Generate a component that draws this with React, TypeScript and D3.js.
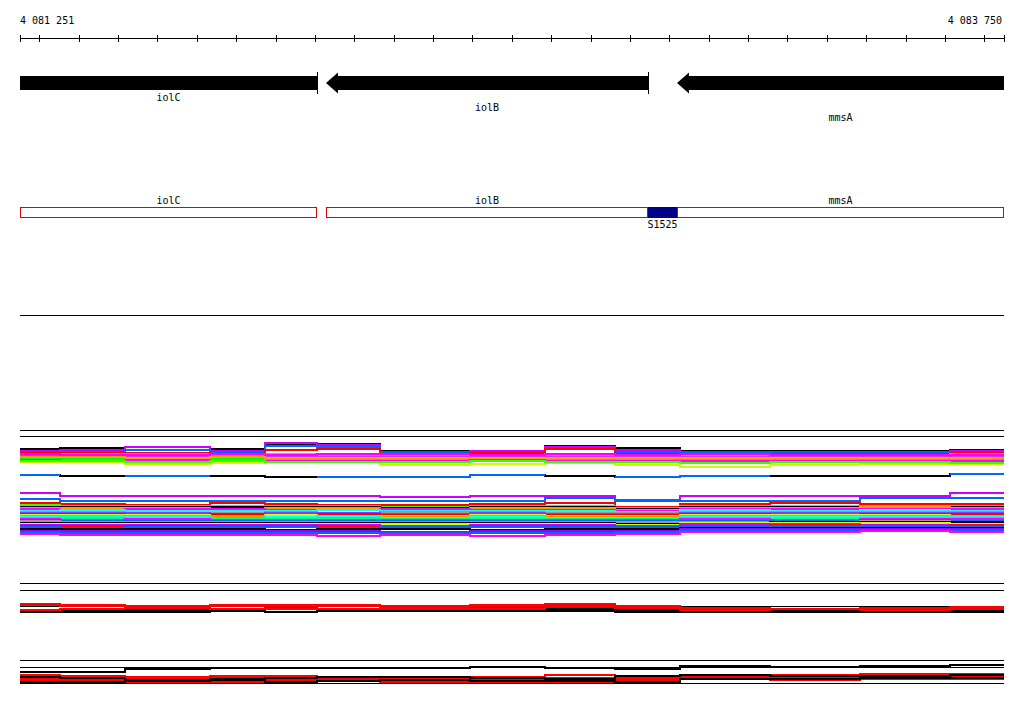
import React from "react";
import * as d3 from "d3";

// ---------- view / ruler ----------
const VIEW_START = 4081251;
const VIEW_END = 4083750;
const TICK_STEP = 100;

// ---------- genes ----------
const geneNames = ["iolC", "iolB", "mmsA"];
const geneStarts = [4080950, 4082028, 4082919];
const geneEnds = [4082005, 4082845, 4084400];
const geneLabelRows = [0, 1, 2];

// ---------- small RNA feature ----------
const featureNames = ["S1525"];
const featureStarts = [4082845];
const featureEnds = [4082919];

// ---------- step breakpoints shared by all profile series (bp) ----------
const breakpoints = [
  4081251, 4081353, 4081518, 4081734, 4081873, 4082005, 4082165, 4082394,
  4082584, 4082762, 4082927, 4083156, 4083384, 4083613, 4083750,
];

// ---------- panel 1 (signal units) ----------
const panel1RefLevels = [16, 15.4];
const panel1UpperColors = [
  "#000000", "#cc00ff", "#0066ff", "#ff0000", "#ff9900", "#999999", "#cc33ff",
  "#00ffff", "#00ff00", "#ff00ff", "#ccff00", "#ff9900", "#33ff00", "#ff00ff",
];
const panel1Upper: (number | null)[][] = [
  [14.1, 14.2, 14.35, 14.1, 14.6, 14.6, 13.9, 13.9, 14.4, 14.2, 13.9, 13.9, 13.9, 14.0],
  [13.95, 14.0, 14.3, 13.9, 14.7, 14.5, 13.85, 13.9, 14.3, 14.0, 13.8, 13.85, 13.85, 13.9],
  [13.8, 13.85, 14.0, 13.8, 14.4, 14.3, 13.8, 13.75, 14.2, 13.8, 13.75, 13.7, 13.7, 13.8],
  [13.7, 13.7, 13.75, 13.6, 14.0, 14.1, 13.6, 13.7, 14.1, 13.6, 13.6, 13.65, 13.6, 13.7],
  [13.55, 13.6, 13.6, 13.5, 13.6, 13.55, 13.45, 13.5, 13.55, 13.5, 13.5, 13.55, 13.5, 13.6],
  [13.5, 13.45, 13.5, 13.5, 13.45, 13.4, 13.5, 13.4, 13.45, 13.4, 13.35, 13.4, 13.45, 13.4],
  [13.4, 13.35, 13.4, 13.3, 13.35, 13.3, 13.3, 13.35, 13.3, 13.3, 13.3, 13.35, 13.3, 13.3],
  [13.2, 13.25, 13.2, 13.2, 13.25, 13.2, 13.1, 13.2, 13.15, 13.2, 13.1, 13.1, 13.2, 13.15],
  [13.1, 13.1, 13.05, 13.1, 13.0, 13.1, 13.0, 13.05, 13.1, 13.0, 13.05, 13.0, 13.0, 13.05],
  [13.0, 12.95, 13.0, 12.9, 12.95, 12.9, 12.9, 13.0, 12.9, 12.95, 12.9, 12.95, 12.9, 12.9],
  [12.8, 12.8, 12.6, 12.75, 12.8, 12.8, 12.55, 12.6, 12.7, 12.55, 12.3, 12.5, 12.6, 12.6],
  [13.3, 13.3, 13.25, 13.35, 13.2, 13.25, 13.2, 13.25, 13.2, 13.25, 13.2, 13.2, 13.25, 13.2],
  [12.9, 12.9, 12.85, 12.9, 12.85, 12.8, 12.85, 12.9, 12.8, 12.8, 12.75, 12.8, 12.8, 12.75],
  [13.6, 13.5, 13.55, 13.6, 13.5, 13.65, 13.6, 13.55, 13.6, 13.55, 13.6, 13.5, 13.55, 13.5],
];
const panel1MidColors = ["#000000", "#0066ff"];
const panel1Mid: (number | null)[][] = [
  [11.5, 11.45, 11.4, 11.4, 11.35, 11.35, 11.35, 11.5, 11.4, 11.3, 11.4, 11.45, 11.45, 11.6],
  [11.55, null, 11.4, null, null, 11.35, 11.35, 11.5, null, 11.3, 11.42, null, null, 11.6],
];
const panel1LowerColors = [
  "#cc00ff", "#0066ff", "#ff0000", "#33ff00", "#000000", "#ff9900", "#ff00ff",
  "#00ffff", "#999999", "#9933ff", "#ff0000", "#ccff00", "#ff9900", "#00ffff",
  "#00ff66", "#ff00ff", "#0066ff", "#999999", "#000000", "#ccff00", "#cc00ff",
  "#ff0000", "#0066ff", "#000000", "#9900ff", "#0066ff", "#ff00ff",
];
const panel1Lower: (number | null)[][] = [
  [9.75, 9.45, 9.4, 9.4, 9.4, 9.4, 9.35, 9.45, 9.45, 9.0, 9.4, 9.4, 9.45, 9.7],
  [9.1, 8.95, 8.9, 8.9, 8.9, 8.9, 8.95, 8.95, 9.2, 8.9, 8.95, 8.95, 9.2, 9.2],
  [8.75, 8.6, 8.55, 8.7, 8.6, 8.55, 8.55, 8.6, 8.7, 8.3, 8.65, 8.7, 8.6, 8.65],
  [8.5, 8.4, 8.45, 8.4, 8.4, 8.4, 8.35, 8.4, 8.45, 8.2, 8.4, 8.45, 8.4, 8.45],
  [8.3, 8.3, 8.3, 8.3, 8.3, 8.3, 8.25, 8.3, 8.3, 8.1, 8.35, 8.35, 8.35, 8.3],
  [8.2, 8.2, 8.25, 8.15, 8.2, 8.2, 8.15, 8.2, 8.2, 8.0, 8.25, 8.2, 8.3, 8.2],
  [8.1, 8.05, 8.1, 8.1, 8.05, 8.05, 8.1, 8.0, 8.05, 7.9, 8.1, 8.1, 8.15, 8.1],
  [7.95, 8.0, 7.95, 7.9, 7.95, 8.0, 7.9, 7.95, 7.9, 7.8, 8.0, 7.95, 8.0, 7.95],
  [7.85, 7.8, 7.75, 7.75, 7.8, 7.75, 7.8, 7.85, 7.75, 7.7, 7.85, 7.8, 7.85, 7.8],
  [7.75, 7.7, 7.7, 7.65, 7.7, 7.7, 7.65, 7.7, 7.65, 7.6, 7.75, 7.7, 7.7, 7.7],
  [7.65, 7.6, 7.55, 7.6, 7.55, 7.6, 7.55, 7.5, 7.55, 7.5, 7.6, 7.55, 7.6, 7.6],
  [7.55, 7.5, 7.5, 7.45, 7.5, 7.45, 7.45, 7.5, 7.45, 7.4, 7.5, 7.5, 7.5, 7.45],
  [7.45, 7.4, 7.4, 7.4, 7.35, 7.4, 7.35, 7.4, 7.35, 7.3, 7.4, 7.45, 7.4, 7.4],
  [7.3, 7.35, 7.3, 7.25, 7.3, 7.3, 7.25, 7.3, 7.2, 7.2, 7.3, 7.3, 7.35, 7.3],
  [7.2, 7.2, 7.15, 7.2, 7.15, 7.2, 7.15, 7.15, 7.1, 7.1, 7.2, 7.15, 7.2, 7.2],
  [7.1, 7.05, 7.1, 7.05, 7.05, 7.0, 7.05, 7.0, 7.0, 7.0, 7.1, 7.05, 7.1, 7.1],
  [7.0, 6.95, 6.95, 6.95, 6.9, 6.95, 6.9, 6.9, 6.95, 6.9, 6.95, 6.95, 7.0, 6.95],
  [6.9, 6.85, 6.85, 6.8, 6.85, 6.8, 6.8, 6.85, 6.8, 6.8, 6.85, 6.85, 6.9, 6.85],
  [6.75, 6.75, 6.75, 6.75, 6.7, 6.75, 6.7, 6.75, 6.75, 6.65, 6.75, 6.8, 6.8, 6.8],
  [6.65, 6.6, 6.65, 6.6, 6.6, 6.65, 6.6, 6.6, 6.6, 6.55, 6.7, 6.7, 6.7, 6.65],
  [6.55, 6.5, 6.5, 6.5, 6.5, 6.5, 6.45, 6.5, 6.5, 6.45, 6.6, 6.6, 6.55, 6.55],
  [6.4, 6.45, 6.4, 6.4, 6.4, 6.35, 6.35, 6.4, 6.4, 6.35, 6.45, 6.5, 6.45, 6.5],
  [6.3, 6.25, 6.3, 6.3, 6.3, 6.25, 6.3, 6.3, 6.3, 6.3, 6.4, 6.4, 6.4, 6.4],
  [6.15, 6.1, 6.1, 6.1, 6.05, 6.1, 6.1, 6.05, 6.1, 6.1, 6.25, 6.25, 6.25, 6.25],
  [5.95, 5.95, 5.9, 5.9, 5.9, 5.95, 5.85, 5.9, 5.95, 5.9, 6.15, 6.1, 6.15, 6.1],
  [5.8, 5.75, 5.75, 5.7, 5.75, 5.7, 5.7, 5.7, 5.75, 5.8, 6.05, 6.05, 6.05, 6.05],
  [5.6, 5.5, 5.55, 5.5, 5.5, 5.4, 5.5, 5.45, 5.55, 5.6, 5.85, 5.85, 5.9, 5.85],
];

// ---------- panel 2 ----------
const panel2RefLevels = [10, 7.67, 2.33];
const panel2Colors = ["#ff0000", "#ff0000", "#000000", "#000000", "#000000", "#ff0000"];
const panel2Series: (number | null)[][] = [
  [2.9, 2.67, 2.5, 2.67, 2.83, 2.67, 2.33, 2.67, 2.9, 2.17, 1.67, 1.5, 1.67, 2.0],
  [2.67, 2.5, 2.33, 2.33, 2.5, 2.33, 1.83, 2.0, 2.5, 1.83, 1.33, 1.17, 1.33, 1.67],
  [0.83, 1.0, 1.33, 1.33, 1.67, 1.5, 1.5, 1.67, 1.83, 1.33, 1.0, 1.17, 0.83, 1.33],
  [0.33, 0.5, 0.67, 1.0, 1.17, 1.0, 1.17, 0.83, 1.33, 0.83, 0.5, 0.83, 0.67, 0.83],
  [0.5, 0.33, 0.33, 0.67, 0.5, 0.67, 0.83, 0.67, 0.83, 0.5, 0.33, 0.33, 0.33, 0.33],
  [1.0, 1.33, 1.67, 1.5, 1.33, 1.17, 1.5, 1.33, 2.0, 1.67, 1.0, 1.17, 1.0, 1.33],
];

// ---------- panel 3 ----------
const panel3RefLevels = [10, 7.2, 0.8];
const panel3Colors = ["#000000", "#ff0000", "#ff0000", "#ff0000", "#ff0000", "#000000", "#000000"];
const panel3Series: (number | null)[][] = [
  [5.4, 5.4, 6.6, 6.8, 6.8, 6.8, 6.8, 7.2, 6.8, 6.6, 7.6, 7.4, 7.6, 8.0],
  [4.0, 3.6, 3.4, 3.6, 3.6, 3.4, 3.4, 3.2, 4.0, 2.8, 4.2, 4.2, 4.4, 4.6],
  [2.8, 3.0, 2.8, 2.8, 2.8, 3.2, 3.0, 2.8, 2.8, 2.0, 3.4, 3.6, 3.4, 3.8],
  [2.0, 2.0, 2.2, 2.0, 2.0, 2.4, 2.0, 2.0, 1.6, 1.6, 3.0, 3.0, 2.8, 3.2],
  [1.4, 1.6, 1.4, 1.4, 1.6, 1.6, 1.4, 1.2, 1.4, 1.4, 2.4, 2.2, 2.4, 2.4],
  [3.2, 2.8, 2.0, 2.4, 2.8, 3.2, 3.4, 3.0, 2.4, 3.6, 4.0, 3.8, 3.6, 4.0],
  [1.2, 1.2, 1.6, 2.0, 1.4, 1.6, 2.0, 1.6, 1.8, 1.2, 2.6, 2.4, 2.8, 2.8],
];

const FONT = "'DejaVu Sans Mono', monospace";

const fmt = (n: number) => d3.format(",")(n).replace(/,/g, " ");
const px = (v: number) => Math.round(v) + 0.5;

export default function App() {
  const W = 1024;
  const H = 714;
  const x = d3.scaleLinear().domain([VIEW_START, VIEW_END]).range([20, 1004]);
  const x0 = x(VIEW_START);
  const x1 = x(VIEW_END);

  const y1 = d3.scaleLinear().domain([5, 16]).range([540, 430]);
  const y2 = d3.scaleLinear().domain([0, 10]).range([613, 583]);
  const y3 = d3.scaleLinear().domain([0, 10]).range([685, 660]);

  const ticks = [VIEW_START, ...d3.range(Math.ceil(VIEW_START / TICK_STEP) * TICK_STEP, VIEW_END, TICK_STEP), VIEW_END];

  const stepPath = (vals: (number | null)[], ys: d3.ScaleLinear<number, number>) => {
    const pts: { p: number; v: number | null }[] = [];
    vals.forEach((v, i) => {
      pts.push({ p: breakpoints[i], v });
      pts.push({ p: breakpoints[i + 1], v });
    });
    const line = d3
      .line<{ p: number; v: number | null }>()
      .defined((d) => d.v !== null)
      .x((d) => Math.round(x(d.p)))
      .y((d) => Math.round(ys(d.v as number)));
    return line(pts) || "";
  };

  const renderSeries = (
    series: (number | null)[][],
    colors: string[],
    ys: d3.ScaleLinear<number, number>,
    width: number,
    key: string
  ) =>
    series.map((s, i) => (
      <path
        key={key + i}
        d={stepPath(s, ys)}
        fill="none"
        stroke={colors[i % colors.length]}
        strokeWidth={width}
        strokeLinejoin="miter"
        shapeRendering="crispEdges"
      />
    ));

  const refLines = (levels: number[], ys: d3.ScaleLinear<number, number>, key: string) =>
    levels.map((l, i) => (
      <line key={key + i} x1={x0} x2={x1} y1={px(ys(l))} y2={px(ys(l))} stroke="#000" strokeWidth={1} shapeRendering="crispEdges" />
    ));

  // gene arrows
  const yc = 83;
  const barH = 7;
  const headH = 10.5;
  const headL = 12;
  const genes = geneNames.map((name, i) => {
    const s = geneStarts[i];
    const e = geneEnds[i];
    const left = Math.round(x(Math.max(s, VIEW_START)));
    const right = Math.round(x(Math.min(e, VIEW_END)));
    const hasHead = s >= VIEW_START;
    let d: string;
    if (hasHead) {
      const tip = left;
      d = `M${tip},${yc} L${tip + headL},${yc - headH} L${tip + headL},${yc - barH} L${right},${yc - barH} L${right},${yc + barH} L${tip + headL},${yc + barH} L${tip + headL},${yc + headH} Z`;
    } else {
      d = `M${left},${yc - barH} L${right},${yc - barH} L${right},${yc + barH} L${left},${yc + barH} Z`;
    }
    const showEnd = e <= VIEW_END;
    return { name, d, left, right, showEnd, row: geneLabelRows[i] };
  });

  return (
    <svg
      width={W}
      height={H}
      style={{ position: "absolute", left: 0, top: 0, background: "#fff" }}
      fontFamily={FONT}
      fontSize={10}
    >
      <rect x={0} y={0} width={W} height={H} fill="#fff" />
      {/* ruler */}
      <text x={x0} y={24} textAnchor="start">{fmt(VIEW_START)}</text>
      <text x={x1 - 2} y={24} textAnchor="end">{fmt(VIEW_END)}</text>
      <line x1={x0} x2={x1} y1={38.5} y2={38.5} stroke="#000" strokeWidth={1} shapeRendering="crispEdges" />
      {ticks.map((t, i) => (
        <line key={"t" + i} x1={px(x(t))} x2={px(x(t))} y1={35} y2={42} stroke="#000" strokeWidth={1} shapeRendering="crispEdges" />
      ))}

      {/* gene arrows */}
      {genes.map((g, i) => (
        <g key={"g" + i}>
          <path d={g.d} fill="#000" />
          {g.showEnd && (
            <line x1={g.right + 0.5} x2={g.right + 0.5} y1={72} y2={94} stroke="#000" strokeWidth={1} shapeRendering="crispEdges" />
          )}
          <text x={(g.left + g.right) / 2} y={101 + g.row * 10} textAnchor="middle">{g.name}</text>
        </g>
      ))}

      {/* gene boxes */}
      {genes.map((g, i) => (
        <g key={"b" + i}>
          <rect x={g.left + 0.5} y={207.5} width={g.right - g.left - 1} height={10} fill="#fff" stroke="#e00000" strokeWidth={1} shapeRendering="crispEdges" />
          <text x={(g.left + g.right) / 2} y={204} textAnchor="middle">{g.name}</text>
        </g>
      ))}
      {featureNames.map((n, i) => {
        const l = Math.round(x(featureStarts[i]));
        const r = Math.round(x(featureEnds[i]));
        return (
          <g key={"f" + i}>
            <rect x={l} y={207} width={r - l} height={11} fill="#00008b" shapeRendering="crispEdges" />
            <text x={(l + r) / 2} y={228} textAnchor="middle">{n}</text>
          </g>
        );
      })}

      <line x1={x0} x2={x1} y1={315.5} y2={315.5} stroke="#000" strokeWidth={1} shapeRendering="crispEdges" />

      {/* panel 1 */}
      {refLines(panel1RefLevels, y1, "r1")}
      {renderSeries(panel1Upper, panel1UpperColors, y1, 2, "u")}
      {renderSeries(panel1Mid, panel1MidColors, y1, 2, "m")}
      {renderSeries(panel1Lower, panel1LowerColors, y1, 2, "l")}

      {/* panel 2 */}
      {refLines(panel2RefLevels, y2, "r2")}
      {renderSeries(panel2Series, panel2Colors, y2, 2, "p2")}

      {/* panel 3 */}
      {refLines(panel3RefLevels, y3, "r3")}
      {renderSeries(panel3Series, panel3Colors, y3, 2, "p3")}
    </svg>
  );
}
